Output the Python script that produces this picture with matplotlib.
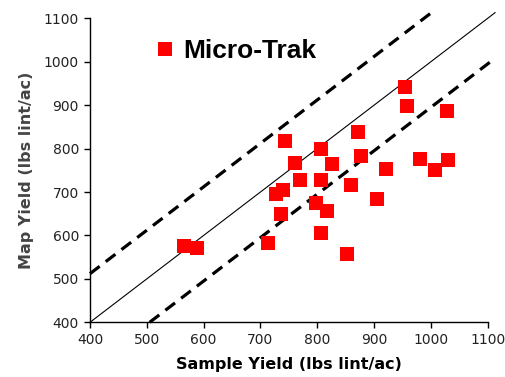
import matplotlib
matplotlib.use("Agg")
import matplotlib.pyplot as plt
import numpy as np

# Data
sample_yield = [566, 588, 714, 727, 740, 737, 743, 761, 770, 807, 807, 798, 818, 807,
                826, 860, 852, 871, 877, 921, 905, 955, 958, 981, 1008, 1030, 1028]
map_yield = [576, 570, 582, 695, 704, 650, 818, 767, 728, 798, 727, 674, 656, 606,
             764, 717, 558, 838, 784, 754, 684, 942, 898, 777, 751, 774, 886]
series_name = "Micro-Trak"
upper_offset = 112
lower_offset = -105
ticks = [400, 500, 600, 700, 800, 900, 1000, 1100]

fig = plt.figure(figsize=(5.06, 3.77), dpi=100)
ax = fig.add_axes([90/506, 1-322.3/377, (487.7-90)/506, (322.3-18.3)/377])

ax.set_xlim(400, 1100)
ax.set_ylim(400, 1100)

# 1:1 line and +/- bands
xl = np.array([400, 1113])
ax.plot(xl, xl, color='black', lw=0.8, clip_on=False, zorder=2)
xu = np.array([400, 1113 - upper_offset])
ax.plot(xu, xu + upper_offset, color='black', lw=2.3, dashes=(3.8, 2.4), clip_on=False, zorder=2)
xlo = np.array([400 - lower_offset, 1113])
ax.plot(xlo, xlo + lower_offset, color='black', lw=2.3, dashes=(3.8, 2.4), clip_on=False, zorder=2)

ax.plot(sample_yield, map_yield, 's', color='#ff0000', markersize=9.5,
        markeredgewidth=0, label=series_name, zorder=3, clip_on=False)

for s in ['top', 'right']:
    ax.spines[s].set_visible(False)
for s in ['left', 'bottom']:
    ax.spines[s].set_linewidth(1.0)
ax.set_xticks(ticks)
ax.set_yticks(ticks)
ax.tick_params(direction='out', length=4, width=1, labelsize=10, pad=4)
for lab in ax.get_xticklabels() + ax.get_yticklabels():
    lab.set_family('DejaVu Sans')
    lab.set_color('#222222')

ax.set_xlabel("Sample Yield (lbs lint/ac)", fontsize=11.5, fontweight='bold',
              family='DejaVu Sans', labelpad=7)
ax.set_ylabel("Map Yield (lbs lint/ac)", fontsize=11.5, fontweight='bold',
              family='DejaVu Sans', color='#444444', labelpad=7)

leg = ax.legend(loc='center left', bbox_to_anchor=(0.128, 0.893), frameon=False,
                borderpad=0, handlelength=0.8, handletextpad=0.3,
                prop={'family': 'Liberation Sans', 'weight': 'bold', 'size': 19},
                markerscale=1.05)

fig.savefig("out.png", dpi=100)
